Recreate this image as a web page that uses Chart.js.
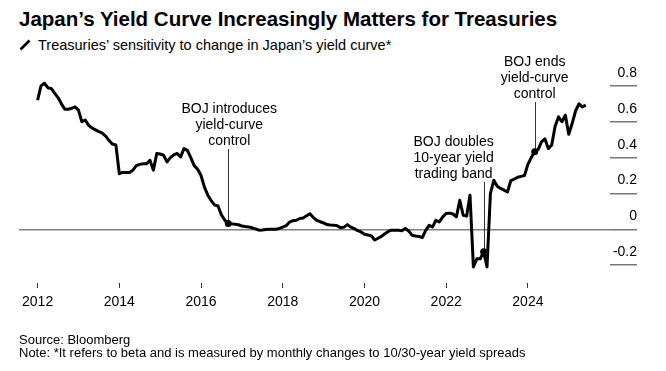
<!DOCTYPE html>
<html>
<head>
<meta charset="utf-8">
<script src="https://cdn.jsdelivr.net/npm/chart.js@4.4.1/dist/chart.umd.min.js"></script>
<style>
body { margin: 0; background: #fff; color: #000; font-family: "Liberation Sans", Arial, sans-serif; }
#wrap { position: relative; width: 666px; height: 371px; overflow: hidden; }
#chart { position: absolute; left: 0; top: 0; }
.title { position: absolute; left: 19px; top: 7px; font-size: 20.5px; line-height: 24px; font-weight: bold; white-space: nowrap; }
.icon { position: absolute; left: 19px; top: 39px; }
.sub { position: absolute; left: 38px; top: 37px; font-size: 14.5px; line-height: 16px; white-space: nowrap; }
.foot { position: absolute; left: 19px; top: 333px; font-size: 13px; line-height: 13px; white-space: nowrap; }
</style>
</head>
<body>
<div id="wrap">
  <div class="title">Japan’s Yield Curve Increasingly Matters for Treasuries</div>
  <svg class="icon" width="12" height="12"><line x1="1.5" y1="10.5" x2="10.5" y2="1.5" stroke="#000" stroke-width="2.6" /></svg>
  <div class="sub">Treasuries’ sensitivity to change in Japan’s yield curve*</div>
  <canvas id="chart" width="666" height="371"></canvas>
  <div class="foot">Source: Bloomberg<br>Note: *It refers to beta and is measured by monthly changes to 10/30-year yield spreads</div>
</div>
<script>
// 月度數據 (2012年1月起)
const startYear = 2012;
const beta = [
  0.72, 0.80, 0.815, 0.79, 0.786, 0.76, 0.735, 0.70, 0.67, 0.67, 0.675, 0.683,       // 2012
  0.665, 0.60, 0.61, 0.58, 0.565, 0.555, 0.545, 0.537, 0.52, 0.495, 0.475, 0.47,     // 2013
  0.31, 0.317, 0.317, 0.317, 0.33, 0.355, 0.362, 0.365, 0.365, 0.385, 0.33, 0.423,   // 2014
  0.42, 0.413, 0.376, 0.40, 0.415, 0.423, 0.404, 0.45, 0.44, 0.40, 0.355, 0.335,     // 2015
  0.30, 0.235, 0.19, 0.16, 0.135, 0.13, 0.08, 0.05, 0.032, 0.03, 0.028, 0.025,       // 2016
  0.018, 0.015, 0.013, 0.008, 0.002, -0.005, -0.004, -0.001, 0, 0, 0, 0.005,         // 2017
  0.012, 0.02, 0.04, 0.048, 0.05, 0.06, 0.063, 0.075, 0.086, 0.065, 0.05, 0.042,     // 2018
  0.035, 0.026, 0.024, 0.023, 0.02, 0.008, 0.012, 0.026, 0.012, 0.004, -0.008, -0.015, // 2019
  -0.028, -0.032, -0.036, -0.06, -0.05, -0.04, -0.025, -0.012, -0.005, -0.006, -0.006, -0.008, // 2020
  0.004, -0.01, -0.034, -0.038, -0.04, -0.046, -0.006, 0.022, 0.013, 0.05, 0.041, 0.069, // 2021
  0.088, 0.09, 0.085, 0.069, 0.162, 0.078, 0.073, 0.19, -0.21, -0.165, -0.165, -0.125, // 2022
  -0.21, 0.20, 0.274, 0.24, 0.228, 0.218, 0.208, 0.272, 0.28, 0.29, 0.295, 0.30,     // 2023
  0.362, 0.40, 0.432, 0.445, 0.488, 0.505, 0.45, 0.47, 0.575, 0.627, 0.60, 0.637,    // 2024
  0.53, 0.59, 0.66, 0.70, 0.683, 0.693                                               // 2025
];
const xTicks = [2012, 2014, 2016, 2018, 2020, 2022, 2024];
const yTicks = [-0.2, 0, 0.2, 0.4, 0.6, 0.8];

// 註解 (month = 從2012年1月起的月份索引)
const notes = [
  { month: 56, lines: ['BOJ introduces', 'yield-curve', 'control'] },
  { month: 131, lines: ['BOJ doubles', '10-year yield', 'trading band'] },
  { month: 146, lines: ['BOJ ends', 'yield-curve', 'control'] }
];
// 註解文字的版面位置
const noteLayout = [
  { dx: 1, top: 113, lineTop: 149 },
  { dx: -30, top: 146, lineTop: 182 },
  { dx: 0, top: 66, lineTop: 102 }
];

const FONT = '"Liberation Sans", Arial, sans-serif';

const notesPlugin = {
  id: 'notes',
  afterDatasetsDraw(chart) {
    const ctx = chart.ctx;
    const xs = chart.scales.x;
    const ys = chart.scales.y;
    ctx.save();
    // 右側Y軸標籤
    ctx.font = '14px ' + FONT;
    ctx.fillStyle = '#000';
    ctx.textAlign = 'right';
    ctx.textBaseline = 'alphabetic';
    ys.ticks.forEach(t => {
      const label = t.value === 0 ? '0' : t.value.toFixed(1);
      ctx.fillText(label, ys.right, ys.getPixelForValue(t.value) - 9);
    });
    // 註解線、點與文字
    ctx.textAlign = 'center';
    notes.forEach((n, i) => {
      const lay = noteLayout[i];
      const px = xs.getPixelForValue(startYear + n.month / 12);
      const py = ys.getPixelForValue(beta[n.month]);
      ctx.strokeStyle = '#333';
      ctx.lineWidth = 1;
      ctx.beginPath();
      ctx.moveTo(Math.round(px) + 0.5, lay.lineTop);
      ctx.lineTo(Math.round(px) + 0.5, py);
      ctx.stroke();
      ctx.fillStyle = '#000';
      ctx.beginPath();
      ctx.arc(px, py, 3.5, 0, Math.PI * 2);
      ctx.fill();
      n.lines.forEach((t, k) => ctx.fillText(t, px + lay.dx, lay.top + k * 16));
    });
    ctx.restore();
  }
};

const ctx = document.getElementById('chart').getContext('2d');
const myChart = new Chart(ctx, {
  type: 'line',
  data: {
    datasets: [{
      label: 'Beta',
      data: beta.map((v, i) => ({ x: startYear + i / 12, y: v })),
      borderColor: '#000',
      borderWidth: 3,
      borderJoinStyle: 'round',
      pointRadius: 0,
      tension: 0,
      fill: false
    }]
  },
  options: {
    responsive: false,
    animation: false,
    devicePixelRatio: 1,
    layout: { padding: { left: 19, right: 29, top: 68, bottom: 0 } },
    plugins: {
      legend: { display: false },
      tooltip: { enabled: false },
      title: { display: false }
    },
    scales: {
      x: {
        type: 'linear',
        min: 2011.545,
        max: 2026.01,
        afterBuildTicks: s => { s.ticks = xTicks.map(v => ({ value: v })); },
        afterFit: s => { s.height = 88; },
        grid: { drawOnChartArea: false, drawTicks: true, tickLength: 5, tickColor: '#333', tickWidth: 1 },
        border: { display: false },
        ticks: {
          color: '#000',
          font: { size: 14, family: FONT },
          padding: 6,
          maxRotation: 0,
          autoSkip: false,
          callback: v => String(v)
        }
      },
      y: {
        position: 'right',
        min: -0.3,
        max: 0.9,
        afterBuildTicks: s => { s.ticks = yTicks.map(v => ({ value: v })); },
        afterFit: s => { s.width = 27; },
        grid: {
          color: c => (c.tick && c.tick.value === 0) ? '#808080' : 'rgba(0,0,0,0)',
          lineWidth: 1.5,
          drawTicks: true,
          tickLength: 27,
          tickColor: '#777',
          tickWidth: 1.5
        },
        border: { display: false },
        ticks: { display: false }
      }
    }
  },
  plugins: [notesPlugin]
});
</script>
</body>
</html>
